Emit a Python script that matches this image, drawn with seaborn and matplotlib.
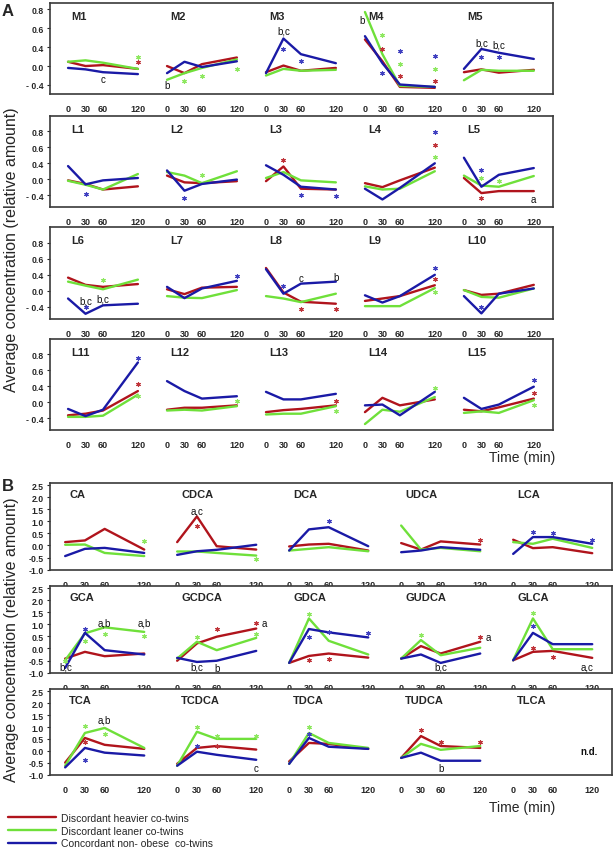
import numpy as np
import pandas as pd
import matplotlib
matplotlib.use("Agg")
import matplotlib.pyplot as plt
import matplotlib.transforms as mtransforms
import seaborn as sns

# === DATA ===
TIMES = [0, 30, 60, 120]
GROUPS = ["Discordant heavier co-twins", "Discordant leaner co-twins",
          "Concordant non- obese  co-twins"]
COLORS = ["#b0141c", "#6fe03a", "#1a1aa6"]
NOTE_COLORS = {"r": "#c0343a", "g": "#8ee860", "b": "#4040c0", "k": "#111111"}

# panel A, row 1
A1_NAMES = ["M1", "M2", "M3", "M4", "M5"]
A1_HEAVY = [[0.09, 0.0, 0.02, -0.06], [0.0, -0.15, 0.04, 0.18], [-0.13, 0.01, -0.1, -0.04],
            [0.56, 0.1, -0.44, -0.46], [-0.13, -0.07, -0.14, -0.08]]
A1_LEAN = [[0.09, 0.12, 0.07, -0.06], [-0.29, -0.15, -0.04, 0.14], [-0.2, -0.06, -0.1, -0.08],
           [1.14, 0.25, -0.42, -0.44], [-0.3, -0.08, -0.1, -0.1]]
A1_CONC = [[-0.04, -0.07, -0.13, -0.17], [-0.15, 0.09, -0.02, 0.1], [-0.15, 0.58, 0.25, 0.06],
           [0.63, 0.06, -0.39, -0.44], [-0.06, 0.36, 0.28, 0.15]]
A1_NOTES = [(0, 120, 0.2, "*", "g"), (0, 120, 0.08, "*", "r"), (0, 60, -0.28, "c", "k"),
            (1, 30, -0.32, "*", "g"), (1, 60, -0.22, "*", "g"), (1, 120, -0.06, "*", "g"),
            (1, 0, -0.41, "b", "k"),
            (2, 30, 0.37, "*", "b"), (2, 60, 0.1, "*", "b"), (2, 30, 0.76, "b,c", "k"),
            (3, -5, 0.98, "b", "k"), (3, 30, 0.65, "*", "g"), (3, 30, 0.36, "*", "r"),
            (3, 30, -0.14, "*", "b"), (3, 60, 0.32, "*", "b"), (3, 60, 0.05, "*", "g"),
            (3, 60, -0.22, "*", "r"), (3, 120, 0.21, "*", "b"), (3, 120, -0.06, "*", "g"),
            (3, 120, -0.32, "*", "r"),
            (4, 30, 0.2, "*", "b"), (4, 60, 0.2, "*", "b"), (4, 30, 0.49, "b,c", "k"),
            (4, 60, 0.46, "b,c", "k")]

# panel A, row 2
A2_NAMES = ["L1", "L2", "L3", "L4", "L5"]
A2_HEAVY = [[-0.03, -0.12, -0.26, -0.18], [0.09, -0.08, -0.1, -0.05], [-0.05, 0.32, -0.24, -0.26],
            [-0.1, -0.2, -0.03, 0.29], [0.03, -0.35, -0.3, -0.3]]
A2_LEAN = [[-0.04, -0.14, -0.26, 0.13], [0.18, 0.09, -0.1, 0.2], [0.03, 0.18, -0.03, -0.08],
           [-0.18, -0.26, -0.24, 0.2], [0.09, -0.16, -0.19, 0.08]]
A2_CONC = [[0.33, -0.13, -0.03, 0.03], [0.22, -0.29, -0.12, -0.01], [0.35, 0.11, -0.19, -0.26],
           [-0.24, -0.51, -0.22, 0.4], [0.54, -0.19, 0.11, 0.28]]
A2_NOTES = [(0, 30, -0.37, "*", "b"), (1, 30, -0.48, "*", "b"), (1, 60, 0.11, "*", "g"),
            (2, 30, 0.49, "*", "r"), (2, 60, -0.4, "*", "b"), (2, 120, -0.43, "*", "b"),
            (3, 120, 1.19, "*", "b"), (3, 120, 0.87, "*", "r"), (3, 120, 0.56, "*", "g"),
            (4, 30, 0.24, "*", "b"), (4, 30, 0.03, "*", "g"), (4, 30, -0.47, "*", "r"),
            (4, 60, -0.05, "*", "g"), (4, 120, -0.5, "a", "k")]

# panel A, row 3
A3_NAMES = ["L6", "L7", "L8", "L9", "L10"]
A3_HEAVY = [[0.33, 0.15, 0.1, 0.17], [0.04, -0.08, 0.08, 0.1], [0.57, -0.04, -0.27, -0.32],
            [-0.25, -0.19, -0.13, 0.14], [0.02, -0.1, -0.07, 0.15]]
A3_LEAN = [[0.23, 0.13, 0.04, 0.28], [-0.13, -0.17, -0.18, 0.02], [-0.13, -0.19, -0.28, -0.07],
           [-0.38, -0.38, -0.38, 0.07], [0.02, -0.15, -0.17, 0.06]]
A3_CONC = [[-0.19, -0.57, -0.36, -0.32], [0.1, -0.18, 0.06, 0.25], [0.54, -0.07, 0.18, 0.23],
           [-0.11, -0.29, -0.13, 0.4], [-0.13, -0.56, -0.07, 0.06]]
A3_NOTES = [(0, 60, 0.27, "*", "g"), (0, 30, -0.39, "*", "b"), (0, 30, -0.23, "b,c", "k"),
            (0, 60, -0.18, "b,c", "k"), (1, 120, 0.38, "*", "b"),
            (2, 30, 0.13, "*", "b"), (2, 60, -0.44, "*", "r"), (2, 120, -0.44, "*", "r"),
            (2, 60, 0.33, "c", "k"), (2, 120, 0.35, "b", "k"),
            (3, 120, 0.58, "*", "b"), (3, 120, 0.29, "*", "r"), (3, 120, -0.04, "*", "g"),
            (4, 30, -0.39, "*", "b")]

# panel A, row 4
A4_NAMES = ["L11", "L12", "L13", "L14", "L15"]
A4_HEAVY = [[-0.33, -0.29, -0.21, 0.28], [-0.19, -0.14, -0.14, -0.08], [-0.25, -0.2, -0.17, -0.08],
            [-0.25, 0.11, -0.08, 0.07], [-0.19, -0.23, -0.13, 0.09]]
A4_LEAN = [[-0.37, -0.37, -0.34, 0.19], [-0.21, -0.19, -0.21, -0.1], [-0.31, -0.29, -0.29, -0.1],
           [-0.55, -0.19, -0.24, 0.13], [-0.27, -0.23, -0.27, 0.05]]
A4_CONC = [[-0.17, -0.35, -0.19, 1.0], [0.53, 0.28, 0.09, 0.15], [0.26, 0.07, 0.07, 0.21],
           [-0.08, -0.06, -0.33, 0.26], [0.11, -0.17, -0.06, 0.39]]
A4_NOTES = [(0, 120, 1.1, "*", "b"), (0, 120, 0.46, "*", "r"), (0, 120, 0.15, "*", "g"),
            (1, 120, 0.03, "*", "g"), (2, 120, 0.04, "*", "r"), (2, 120, -0.21, "*", "g"),
            (3, 120, 0.36, "*", "g"),
            (4, 120, 0.56, "*", "b"), (4, 120, 0.24, "*", "r"), (4, 120, -0.08, "*", "g")]

# panel B, row 1
B1_NAMES = ["CA", "CDCA", "DCA", "UDCA", "LCA"]
B1_HEAVY = [[0.14, 0.21, 0.69, -0.17], [0.14, 1.21, -0.03, -0.17], [-0.04, 0.04, 0.07, -0.21],
            [0.1, -0.17, 0.17, 0.04], [0.24, -0.11, -0.07, -0.32]]
B1_LEAN = [[0.03, 0.04, -0.31, -0.44], [-0.25, -0.25, -0.31, -0.42], [-0.21, -0.14, -0.07, -0.24],
           [0.83, -0.17, -0.1, -0.24], [0.14, 0.07, 0.28, -0.1]]
B1_CONC = [[-0.44, -0.14, -0.1, -0.31], [-0.39, -0.24, -0.18, 0.03], [-0.21, 0.67, 0.76, -0.03],
           [-0.28, -0.21, -0.07, -0.18], [-0.35, 0.35, 0.35, 0.07]]
B1_NOTES = [(0, 120, 0.17, "*", "g"), (1, 30, 0.83, "*", "r"), (1, 30, 1.44, "a,c", "k"),
            (1, 120, -0.58, "*", "g"), (2, 60, 1.01, "*", "b"), (3, 120, 0.21, "*", "r"),
            (4, 30, 0.58, "*", "b"), (4, 60, 0.53, "*", "b"), (4, 120, 0.21, "*", "b")]

# panel B, row 2
B2_NAMES = ["GCA", "GCDCA", "GDCA", "GUDCA", "GLCA"]
B2_HEAVY = [[-0.42, -0.14, -0.32, -0.21], [-0.51, 0.21, 0.49, 0.83], [-0.6, -0.31, -0.21, -0.38],
            [-0.42, 0.1, -0.21, 0.28], [-0.49, -0.14, -0.1, -0.39]]
B2_LEAN = [[-0.49, 0.63, 0.88, 0.69], [-0.42, 0.28, -0.07, 0.44], [-0.6, 1.25, 0.32, -0.25],
           [-0.42, 0.35, -0.28, 0.03], [-0.49, 1.25, -0.03, -0.03]]
B2_CONC = [[-0.81, 0.65, -0.07, -0.25], [-0.39, -0.56, -0.51, -0.1], [-0.6, 0.81, 0.67, 0.46],
           [-0.42, -0.25, -0.6, -0.21], [-0.49, 0.65, 0.18, 0.18]]
B2_NOTES = [(0, 30, 0.81, "*", "b"), (0, 30, 0.32, "*", "g"), (0, 60, 0.6, "*", "g"),
            (0, 120, 0.51, "*", "g"), (0, 0, -0.51, "*", "g"), (0, 60, 1.08, "a,b", "k"),
            (0, 120, 1.08, "a,b", "k"), (0, 1, -0.76, "b,c", "k"),
            (1, 30, 0.49, "*", "g"), (1, 60, 0.81, "*", "r"), (1, 120, 1.04, "*", "r"),
            (1, 120, 0.6, "*", "g"), (1, 30, -0.76, "b,c", "k"), (1, 60, -0.81, "b", "k"),
            (1, 132, 1.04, "a", "k"),
            (2, 30, 1.42, "*", "g"), (2, 30, 0.49, "*", "b"), (2, 60, 0.69, "*", "b"),
            (2, 120, 0.63, "*", "b"), (2, 30, -0.49, "*", "r"), (2, 60, -0.42, "*", "r"),
            (3, 30, 0.58, "*", "g"), (3, 120, 0.49, "*", "r"), (3, 132, 0.49, "a", "k"),
            (3, 60, -0.76, "b,c", "k"),
            (4, 30, 1.46, "*", "g"), (4, 30, 0.94, "*", "b"), (4, 30, 0.04, "*", "r"),
            (4, 60, -0.35, "*", "r"), (4, 112, -0.76, "a,c", "k")]

# panel B, row 3 (TLCA not detected)
B3_NAMES = ["TCA", "TCDCA", "TDCA", "TUDCA", "TLCA"]
B3_HEAVY = [[-0.5, 0.54, 0.25, 0.08], [-0.55, 0.12, 0.2, 0.05], [-0.45, 0.33, 0.29, 0.08],
            [-0.3, 0.62, 0.2, 0.12], None]
B3_LEAN = [[-0.63, 0.75, 0.96, 0.12], [-0.63, 0.8, 0.5, 0.5], [-0.55, 0.75, 0.33, 0.12],
           [-0.3, 0.29, 0.04, 0.2], None]
B3_CONC = [[-0.7, 0.12, -0.08, -0.2], [-0.63, -0.04, -0.17, -0.38], [-0.55, 0.54, 0.17, 0.08],
           [-0.3, -0.08, -0.42, -0.42], None]
B3_NOTES = [(0, 30, 1.04, "*", "g"), (0, 60, 0.71, "*", "g"), (0, 30, 0.38, "*", "r"),
            (0, 30, -0.38, "*", "b"), (0, 60, 1.3, "a,b", "k"),
            (1, 30, 1.0, "*", "g"), (1, 60, 0.63, "*", "g"), (1, 120, 0.63, "*", "g"),
            (1, 30, 0.21, "*", "b"), (1, 60, 0.21, "*", "r"), (1, 120, -0.71, "c", "k"),
            (2, 30, 1.0, "*", "g"), (2, 30, 0.71, "*", "b"),
            (3, 30, 0.88, "*", "r"), (3, 60, 0.38, "*", "r"), (3, 120, 0.38, "*", "r"),
            (3, 60, -0.71, "b", "k"), (4, 115, 0.0, "n.d.", "k")]

A_YTICKS = [1.2, 0.8, 0.4, 0.0, -0.4]
A_YTICKLABELS = ["0.8", "0.6", "0.4", "0.0", "- 0.4"]
B_YTICKS = [2.5, 2.0, 1.5, 1.0, 0.5, 0.0, -0.5, -1.0]
B_YTICKLABELS = ["2.5", "2.0", "1.5", "1.0", "0.5", "0.0", "-0.5", "-1.0"]

# === LAYOUT ===
W, H = 616, 853
OFFSET = 170

sns.set_style("white")
plt.rcParams["font.family"] = ["Liberation Sans", "DejaVu Sans"]

fig = plt.figure(figsize=(W / 100, H / 100), dpi=100)


def px_rect(x0, y0, x1, y1):
    return [x0 / W, 1 - y1 / H, (x1 - x0) / W, (y1 - y0) / H]


def draw_row(box, names, heavy, lean, conc, notes, ylim, yticks, ytlabels, xlim, title_y):
    ax = fig.add_axes(px_rect(*box))
    rows = []
    for k, name in enumerate(names):
        for g, series in zip(GROUPS, (heavy, lean, conc)):
            if series[k] is None:
                continue
            for t, v in zip(TIMES, series[k]):
                rows.append({"x": k * OFFSET + t, "value": v, "group": g, "panel": name})
    df = pd.DataFrame(rows)
    sns.lineplot(data=df, x="x", y="value", hue="group", hue_order=GROUPS,
                 palette=COLORS, units="panel", estimator=None, linewidth=1.7,
                 ax=ax, legend=True)
    handles, labels = ax.get_legend_handles_labels()
    ax.get_legend().remove()

    trans = mtransforms.blended_transform_factory(ax.transData, ax.transAxes)
    for k, name in enumerate(names):
        ax.text(k * OFFSET + 6, title_y, name, transform=trans, fontsize=8,
                fontweight="bold", ha="left", va="center")

    for k, t, y, txt, c in notes:
        x = k * OFFSET + t
        if txt == "*":
            ax.plot(x, y, marker=(6, 2, 0), ms=3.2, mew=0.8, color=NOTE_COLORS[c], ls="none")
        else:
            ax.text(x, y, txt, fontsize=7, ha="center", va="center",
                    color=NOTE_COLORS[c], fontweight="bold" if txt == "n.d." else "normal")

    ax.set_xlim(*xlim)
    ax.set_ylim(*ylim)
    ax.set_xticks([k * OFFSET + t for k in range(5) for t in TIMES])
    ax.set_xticklabels([str(t) for k in range(5) for t in TIMES])
    ax.set_yticks(yticks)
    ax.set_yticklabels(ytlabels)
    ax.tick_params(axis="x", length=0, pad=7, labelsize=6.5)
    ax.tick_params(axis="y", length=2.5, width=0.8, pad=2, labelsize=6.2, left=True)
    for lab in ax.get_xticklabels() + ax.get_yticklabels():
        lab.set_fontweight("bold")
    for sp in ax.spines.values():
        sp.set_color("#3a3a3a")
        sp.set_linewidth(1.2)
    ax.set_xlabel("")
    ax.set_ylabel("")
    return handles, labels


A_XLIM = (-31, 833)
B_XLIM = (-23, 830)

handles, labels = draw_row((50, 4, 553, 95), A1_NAMES, A1_HEAVY, A1_LEAN, A1_CONC, A1_NOTES,
                           (-0.59, 1.33), A_YTICKS, A_YTICKLABELS, A_XLIM, 0.86)
draw_row((50, 117, 553, 208), A2_NAMES, A2_HEAVY, A2_LEAN, A2_CONC, A2_NOTES,
         (-0.70, 1.59), A_YTICKS, A_YTICKLABELS, A_XLIM, 0.86)
draw_row((50, 228, 553, 320), A3_NAMES, A3_HEAVY, A3_LEAN, A3_CONC, A3_NOTES,
         (-0.70, 1.59), A_YTICKS, A_YTICKLABELS, A_XLIM, 0.86)
draw_row((50, 340, 553, 431), A4_NAMES, A4_HEAVY, A4_LEAN, A4_CONC, A4_NOTES,
         (-0.70, 1.59), A_YTICKS, A_YTICKLABELS, A_XLIM, 0.86)

draw_row((50, 484, 612, 571), B1_NAMES, B1_HEAVY, B1_LEAN, B1_CONC, B1_NOTES,
         (-1.02, 2.6), B_YTICKS, B_YTICKLABELS, B_XLIM, 0.87)
draw_row((50, 587, 612, 674), B2_NAMES, B2_HEAVY, B2_LEAN, B2_CONC, B2_NOTES,
         (-1.02, 2.6), B_YTICKS, B_YTICKLABELS, B_XLIM, 0.87)
draw_row((50, 690, 612, 776), B3_NAMES, B3_HEAVY, B3_LEAN, B3_CONC, B3_NOTES,
         (-1.02, 2.6), B_YTICKS, B_YTICKLABELS, B_XLIM, 0.87)

# === FIGURE TEXT ===
fig.text(2 / W, 1 - 12 / H, "A", fontsize=12, fontweight="bold", ha="left", va="center")
fig.text(2 / W, 1 - 487 / H, "B", fontsize=12, fontweight="bold", ha="left", va="center")
for yc in (250, 640):
    fig.text(12 / W, 1 - yc / H, "Average concentration (relative amount)", fontsize=11.5,
             rotation=90, ha="center", va="center")
for yc in (458, 808):
    fig.text(555 / W, 1 - yc / H, "Time (min)", fontsize=10, ha="right", va="center")

fig.legend(handles, labels, loc="upper left", bbox_to_anchor=(8 / W, 1 - 814 / H),
           frameon=False, fontsize=7.5, handlelength=4.6, handletextpad=0.5,
           labelspacing=0.25, borderaxespad=0, borderpad=0)

plt.savefig("out.png", dpi=100)
plt.close()
